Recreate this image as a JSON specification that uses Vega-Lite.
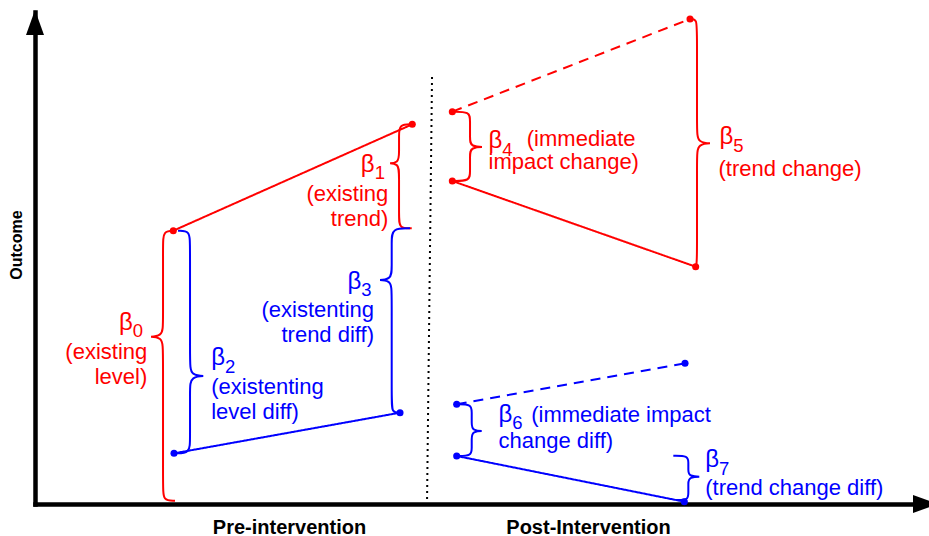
{
  "$schema": "https://vega.github.io/schema/vega-lite/v6.json",
  "width": 894,
  "height": 492,
  "autosize": {"type": "none"},
  "padding": {"left": 35, "top": 12, "right": 0, "bottom": 32},
  "background": "white",
  "config": {"view": {"stroke": null}, "font": "Liberation Sans"},
  "datasets": {
    "divider": [{"x": 44.41, "y": 86.79, "x2": 43.85, "y2": 0.2}],
    "titles": [{"text": "Outcome", "x": -1.96, "y": 52.64}],
    "series": [
      {"group": "A", "period": "pre", "kind": "observed", "x": 15.47, "y": 55.55},
      {"group": "A", "period": "pre", "kind": "observed", "x": 42.2, "y": 77.17},
      {"group": "A", "period": "post", "kind": "counterfactual", "x": 46.68, "y": 79.74},
      {"group": "A", "period": "post", "kind": "counterfactual", "x": 73.27, "y": 98.58},
      {"group": "A", "period": "post", "kind": "observed", "x": 46.68, "y": 65.65},
      {"group": "A", "period": "post", "kind": "observed", "x": 73.9, "y": 48.23},
      {"group": "B", "period": "pre", "kind": "observed", "x": 15.55, "y": 10.3},
      {"group": "B", "period": "pre", "kind": "observed", "x": 40.83, "y": 18.56},
      {"group": "B", "period": "post", "kind": "counterfactual", "x": 47.17, "y": 20.26},
      {"group": "B", "period": "post", "kind": "counterfactual", "x": 72.71, "y": 28.6},
      {"group": "B", "period": "post", "kind": "observed", "x": 47.17, "y": 9.76},
      {"group": "B", "period": "post", "kind": "observed", "x": 72.63, "y": 0.47}
    ],
    "braces": [
      {"b": "b0", "g": "A", "i": 0, "x": 15.66, "y": 55.55},
      {"b": "b0", "g": "A", "i": 1, "x": 14.32, "y": 55.55},
      {"b": "b0", "g": "A", "i": 2, "x": 14.32, "y": 52.7},
      {"b": "b0", "g": "A", "i": 3, "x": 14.32, "y": 36.85},
      {"b": "b0", "g": "A", "i": 4, "x": 14.32, "y": 34.0},
      {"b": "b0", "g": "A", "i": 5, "x": 12.3, "y": 34.0},
      {"b": "b0", "g": "A", "i": 6, "x": 14.32, "y": 34.0},
      {"b": "b0", "g": "A", "i": 7, "x": 14.32, "y": 31.15},
      {"b": "b0", "g": "A", "i": 8, "x": 14.32, "y": 3.52},
      {"b": "b0", "g": "A", "i": 9, "x": 14.32, "y": 0.67},
      {"b": "b0", "g": "A", "i": 10, "x": 15.66, "y": 0.67},
      {"b": "b1", "g": "A", "i": 0, "x": 42.17, "y": 77.17},
      {"b": "b1", "g": "A", "i": 1, "x": 40.72, "y": 77.17},
      {"b": "b1", "g": "A", "i": 2, "x": 40.72, "y": 74.93},
      {"b": "b1", "g": "A", "i": 3, "x": 40.72, "y": 71.49},
      {"b": "b1", "g": "A", "i": 4, "x": 40.72, "y": 69.25},
      {"b": "b1", "g": "A", "i": 5, "x": 39.21, "y": 69.25},
      {"b": "b1", "g": "A", "i": 6, "x": 40.72, "y": 69.25},
      {"b": "b1", "g": "A", "i": 7, "x": 40.72, "y": 67.01},
      {"b": "b1", "g": "A", "i": 8, "x": 40.72, "y": 58.28},
      {"b": "b1", "g": "A", "i": 9, "x": 40.72, "y": 56.04},
      {"b": "b1", "g": "A", "i": 10, "x": 42.14, "y": 56.04},
      {"b": "b2", "g": "B", "i": 0, "x": 16.0, "y": 55.55},
      {"b": "b2", "g": "B", "i": 1, "x": 17.34, "y": 55.55},
      {"b": "b2", "g": "B", "i": 2, "x": 17.34, "y": 52.7},
      {"b": "b2", "g": "B", "i": 3, "x": 17.34, "y": 28.87},
      {"b": "b2", "g": "B", "i": 4, "x": 17.34, "y": 26.02},
      {"b": "b2", "g": "B", "i": 5, "x": 19.57, "y": 26.02},
      {"b": "b2", "g": "B", "i": 6, "x": 17.34, "y": 26.02},
      {"b": "b2", "g": "B", "i": 7, "x": 17.34, "y": 23.17},
      {"b": "b2", "g": "B", "i": 8, "x": 17.34, "y": 13.15},
      {"b": "b2", "g": "B", "i": 9, "x": 17.34, "y": 10.3},
      {"b": "b2", "g": "B", "i": 10, "x": 15.66, "y": 10.3},
      {"b": "b3", "g": "B", "i": 0, "x": 41.95, "y": 56.04},
      {"b": "b3", "g": "B", "i": 1, "x": 39.9, "y": 56.04},
      {"b": "b3", "g": "B", "i": 2, "x": 39.9, "y": 53.4},
      {"b": "b3", "g": "B", "i": 3, "x": 39.9, "y": 48.17},
      {"b": "b3", "g": "B", "i": 4, "x": 39.9, "y": 45.53},
      {"b": "b3", "g": "B", "i": 5, "x": 37.94, "y": 45.53},
      {"b": "b3", "g": "B", "i": 6, "x": 39.9, "y": 45.53},
      {"b": "b3", "g": "B", "i": 7, "x": 39.9, "y": 42.89},
      {"b": "b3", "g": "B", "i": 8, "x": 39.9, "y": 21.2},
      {"b": "b3", "g": "B", "i": 9, "x": 39.9, "y": 18.56},
      {"b": "b3", "g": "B", "i": 10, "x": 40.83, "y": 18.56},
      {"b": "b4", "g": "A", "i": 0, "x": 46.68, "y": 79.74},
      {"b": "b4", "g": "A", "i": 1, "x": 48.66, "y": 79.74},
      {"b": "b4", "g": "A", "i": 2, "x": 48.66, "y": 77.91},
      {"b": "b4", "g": "A", "i": 3, "x": 48.66, "y": 74.39},
      {"b": "b4", "g": "A", "i": 4, "x": 48.66, "y": 72.56},
      {"b": "b4", "g": "A", "i": 5, "x": 50.67, "y": 72.56},
      {"b": "b4", "g": "A", "i": 6, "x": 48.66, "y": 72.56},
      {"b": "b4", "g": "A", "i": 7, "x": 48.66, "y": 70.73},
      {"b": "b4", "g": "A", "i": 8, "x": 48.66, "y": 67.48},
      {"b": "b4", "g": "A", "i": 9, "x": 48.66, "y": 65.65},
      {"b": "b4", "g": "A", "i": 10, "x": 46.68, "y": 65.65},
      {"b": "b5", "g": "A", "i": 0, "x": 73.27, "y": 98.58},
      {"b": "b5", "g": "A", "i": 1, "x": 74.05, "y": 98.58},
      {"b": "b5", "g": "A", "i": 2, "x": 74.05, "y": 95.73},
      {"b": "b5", "g": "A", "i": 3, "x": 74.05, "y": 76.16},
      {"b": "b5", "g": "A", "i": 4, "x": 74.05, "y": 73.31},
      {"b": "b5", "g": "A", "i": 5, "x": 76.23, "y": 73.31},
      {"b": "b5", "g": "A", "i": 6, "x": 74.05, "y": 73.31},
      {"b": "b5", "g": "A", "i": 7, "x": 74.05, "y": 70.46},
      {"b": "b5", "g": "A", "i": 8, "x": 74.05, "y": 51.08},
      {"b": "b5", "g": "A", "i": 9, "x": 74.05, "y": 48.23},
      {"b": "b5", "g": "A", "i": 10, "x": 73.6, "y": 48.23},
      {"b": "b6", "g": "B", "i": 0, "x": 47.17, "y": 20.26},
      {"b": "b6", "g": "B", "i": 1, "x": 48.85, "y": 20.26},
      {"b": "b6", "g": "B", "i": 2, "x": 48.85, "y": 18.63},
      {"b": "b6", "g": "B", "i": 3, "x": 48.85, "y": 16.47},
      {"b": "b6", "g": "B", "i": 4, "x": 48.85, "y": 14.84},
      {"b": "b6", "g": "B", "i": 5, "x": 50.53, "y": 14.84},
      {"b": "b6", "g": "B", "i": 6, "x": 48.85, "y": 14.84},
      {"b": "b6", "g": "B", "i": 7, "x": 48.85, "y": 13.21},
      {"b": "b6", "g": "B", "i": 8, "x": 48.85, "y": 11.39},
      {"b": "b6", "g": "B", "i": 9, "x": 48.85, "y": 9.76},
      {"b": "b6", "g": "B", "i": 10, "x": 47.17, "y": 9.76},
      {"b": "b7", "g": "B", "i": 0, "x": 71.4, "y": 9.82},
      {"b": "b7", "g": "B", "i": 1, "x": 73.08, "y": 9.82},
      {"b": "b7", "g": "B", "i": 2, "x": 73.08, "y": 8.4},
      {"b": "b7", "g": "B", "i": 3, "x": 73.08, "y": 6.97},
      {"b": "b7", "g": "B", "i": 4, "x": 73.08, "y": 5.55},
      {"b": "b7", "g": "B", "i": 5, "x": 74.92, "y": 5.55},
      {"b": "b7", "g": "B", "i": 6, "x": 73.08, "y": 5.55},
      {"b": "b7", "g": "B", "i": 7, "x": 73.08, "y": 4.13},
      {"b": "b7", "g": "B", "i": 8, "x": 73.08, "y": 2.23},
      {"b": "b7", "g": "B", "i": 9, "x": 73.08, "y": 0.81},
      {"b": "b7", "g": "B", "i": 10, "x": 71.7, "y": 0.81}
    ],
    "betas": [
      {"sub": "0", "g": "A", "x": 9.4, "y": 35.37},
      {"sub": "1", "g": "A", "x": 36.45, "y": 67.48},
      {"sub": "2", "g": "B", "x": 19.71, "y": 28.25},
      {"sub": "3", "g": "B", "x": 34.95, "y": 43.8},
      {"sub": "4", "g": "A", "x": 50.73, "y": 72.26},
      {"sub": "5", "g": "A", "x": 76.57, "y": 73.17},
      {"sub": "6", "g": "B", "x": 51.85, "y": 16.67},
      {"sub": "7", "g": "B", "x": 74.97, "y": 7.52}
    ],
    "descs": [
      {"text": "(existing\nlevel)", "g": "A", "anchor": "end", "x": 12.56, "y": 29.47},
      {"text": "(existing\ntrend)", "g": "A", "anchor": "end", "x": 39.52, "y": 61.59},
      {"text": "(existenting\ntrend diff)", "g": "B", "anchor": "end", "x": 37.92, "y": 37.91},
      {"text": "(existenting\nlevel diff)", "g": "B", "anchor": "start", "x": 19.71, "y": 22.36},
      {"text": "(immediate", "g": "A", "anchor": "start", "x": 55.01, "y": 72.76},
      {"text": "impact change)", "g": "A", "anchor": "start", "x": 50.73, "y": 67.99},
      {"text": "(trend change)", "g": "A", "anchor": "start", "x": 76.45, "y": 66.67},
      {"text": "(immediate impact", "g": "B", "anchor": "start", "x": 55.5, "y": 16.67},
      {"text": "change diff)", "g": "B", "anchor": "start", "x": 51.85, "y": 11.38},
      {"text": "(trend change diff)", "g": "B", "anchor": "start", "x": 74.97, "y": 1.83}
    ],
    "arrows": [
      {"axis": "y", "x": 0, "y": 97.87},
      {"axis": "x", "x": 99.61, "y": 0}
    ]
  },
  "encoding": {
    "x": {
      "field": "x", "type": "quantitative",
      "scale": {"domain": [0, 100], "nice": false, "zero": false},
      "axis": {
        "title": null, "values": [28.41, 61.86],
        "labelExpr": "datum.value < 50 ? 'Pre-intervention' : 'Post-Intervention'",
        "grid": false, "ticks": false, "tickSize": 0,
        "domainColor": "black", "domainWidth": 4.5, "domainCap": "square",
        "labelFont": "Liberation Sans", "labelFontSize": 20, "labelFontWeight": "bold",
        "labelColor": "black", "labelPadding": 13, "labelFlush": false, "labelOverlap": false
      }
    },
    "y": {
      "field": "y", "type": "quantitative",
      "scale": {"domain": [0, 100], "nice": false, "zero": false},
      "axis": {
        "title": null, "labels": false, "ticks": false, "tickSize": 0, "grid": false,
        "domainColor": "black", "domainWidth": 4.5, "domainCap": "square"
      }
    }
  },
  "layer": [
    {
      "data": {"name": "divider"},
      "mark": {"type": "rule", "strokeDash": [2, 4], "strokeWidth": 2, "color": "black"},
      "encoding": {"x2": {"field": "x2"}, "y2": {"field": "y2"}}
    },
    {
      "data": {"name": "braces"},
      "mark": {"type": "line", "interpolate": "basis", "strokeWidth": 2},
      "encoding": {
        "color": {"field": "g", "type": "nominal", "scale": {"domain": ["A", "B"], "range": ["#ff0000", "#0000ff"]}, "legend": null},
        "detail": {"field": "b"},
        "order": {"field": "i", "type": "quantitative"}
      }
    },
    {
      "data": {"name": "series"},
      "mark": {"type": "line", "strokeWidth": 2},
      "encoding": {
        "color": {"field": "group", "type": "nominal", "scale": {"domain": ["A", "B"], "range": ["#ff0000", "#0000ff"]}, "legend": null},
        "strokeDash": {"field": "kind", "type": "nominal", "scale": {"domain": ["observed", "counterfactual"], "range": [[1, 0], [10, 7]]}, "legend": null},
        "detail": {"field": "period"}
      }
    },
    {
      "data": {"name": "series"},
      "mark": {"type": "point", "filled": true, "size": 50, "opacity": 1},
      "encoding": {
        "color": {"field": "group", "type": "nominal", "scale": {"domain": ["A", "B"], "range": ["#ff0000", "#0000ff"]}, "legend": null}
      }
    },
    {
      "data": {"name": "betas"},
      "mark": {"type": "text", "text": "β", "fontSize": 24, "align": "left", "baseline": "alphabetic", "font": "Liberation Sans"},
      "encoding": {
        "color": {"field": "g", "type": "nominal", "scale": {"domain": ["A", "B"], "range": ["#ff0000", "#0000ff"]}, "legend": null}
      }
    },
    {
      "data": {"name": "betas"},
      "mark": {"type": "text", "fontSize": 18.5, "align": "left", "baseline": "alphabetic", "dx": 13.8, "dy": 7.5, "font": "Liberation Sans"},
      "encoding": {
        "text": {"field": "sub"},
        "color": {"field": "g", "type": "nominal", "scale": {"domain": ["A", "B"], "range": ["#ff0000", "#0000ff"]}, "legend": null}
      }
    },
    {
      "data": {"name": "descs"},
      "transform": [{"filter": "datum.anchor === 'start'"}],
      "mark": {"type": "text", "fontSize": 22, "align": "left", "baseline": "alphabetic", "lineBreak": "\n", "lineHeight": 25, "font": "Liberation Sans"},
      "encoding": {
        "text": {"field": "text"},
        "color": {"field": "g", "type": "nominal", "scale": {"domain": ["A", "B"], "range": ["#ff0000", "#0000ff"]}, "legend": null}
      }
    },
    {
      "data": {"name": "descs"},
      "transform": [{"filter": "datum.anchor === 'end'"}],
      "mark": {"type": "text", "fontSize": 22, "align": "right", "baseline": "alphabetic", "lineBreak": "\n", "lineHeight": 25, "font": "Liberation Sans"},
      "encoding": {
        "text": {"field": "text"},
        "color": {"field": "g", "type": "nominal", "scale": {"domain": ["A", "B"], "range": ["#ff0000", "#0000ff"]}, "legend": null}
      }
    },
    {
      "data": {"name": "titles"},
      "mark": {"type": "text", "angle": 270, "fontSize": 16, "fontWeight": "bold", "align": "center", "baseline": "middle", "color": "black", "font": "Liberation Sans"},
      "encoding": {"text": {"field": "text"}}
    },
    {
      "data": {"name": "arrows"},
      "transform": [{"filter": "datum.axis === 'y'"}],
      "mark": {"type": "point", "shape": "M0,-1L0.72,1L-0.72,1Z", "size": 625, "filled": true, "color": "black", "opacity": 1}
    },
    {
      "data": {"name": "arrows"},
      "transform": [{"filter": "datum.axis === 'x'"}],
      "mark": {"type": "point", "shape": "M1,0L-1,0.72L-1,-0.72Z", "size": 625, "filled": true, "color": "black", "opacity": 1}
    }
  ]
}
